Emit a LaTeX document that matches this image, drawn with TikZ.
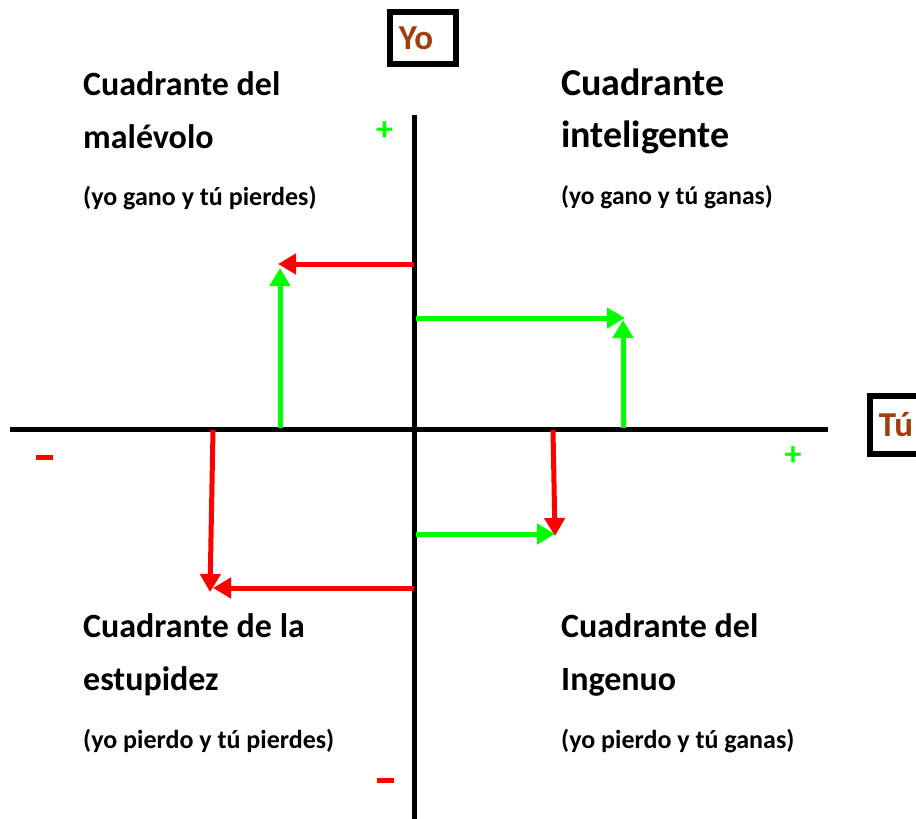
\documentclass[tikz,border=0pt]{standalone}
\usepackage{fontspec}
\setmainfont{Carlito}
\usetikzlibrary{arrows.meta}
\definecolor{yobrown}{RGB}{160,62,12}
\definecolor{lime}{RGB}{0,255,0}

\begin{document}
\begin{tikzpicture}[x=1pt, y=-1pt,
	axisline/.style={line width=5pt, color=black},
	gainarrow/.style={line width=5pt, color=lime, -{Triangle[length=18pt,width=20pt]}},
	lossarrow/.style={line width=5pt, color=red, -{Triangle[length=18pt,width=20pt]}},
	heading/.style={anchor=base west, inner sep=0pt, font=\fontsize{34}{40}\selectfont\bfseries},
	bigheading/.style={heading, font=\fontsize{38}{44}\selectfont\bfseries},
	subtitle/.style={anchor=base west, inner sep=0pt, font=\fontsize{26}{30}\selectfont\bfseries},
	signtext/.style={inner sep=0pt, font=\fontsize{34}{34}\selectfont\bfseries},
	axisbox/.style={draw=black, line width=6pt, inner sep=0pt, minimum width=66pt, minimum height=52pt,
		text=yobrown, font=\fontsize{35}{35}\selectfont\bfseries}]
	%%%%% START %%%%%
	
	\useasboundingbox (0,0) rectangle (916,819);
	
	% ejes
	\coordinate (ytop) at (414,115);
	\coordinate (ybot) at (414,819);
	\coordinate (xleft) at (10,429);
	\coordinate (xright) at (828,429);
	\draw[axisline] (ytop) -- (ybot);
	\draw[axisline] (xleft) -- (xright);
	
	\node[axisbox] (yo) at (423,38) {\hspace*{-14pt}Yo};
	\begin{scope}
		\clip (0,0) rectangle (916,819);
		\node[axisbox, minimum height=58pt, anchor=west] (tu) at (867,425) {\hspace*{-14pt}Tú};
	\end{scope}
	
	\node[signtext, color=lime] (ymas) at (384.5,131) {+};
	\node[signtext, color=lime] (xmas) at (793,456) {+};
	\node[signtext, color=red] (xmenos) at (44,458) {\rule[0.1ex]{17pt}{5pt}};
	\node[signtext, color=red] (ymenos) at (385,781) {\rule[0.1ex]{17pt}{5pt}};
	
	% cuadrante del malévolo
	\coordinate (m1) at (414,264);
	\coordinate (m2) at (278,264);
	\coordinate (m3) at (280,428);
	\coordinate (m4) at (280,268);
	\draw[lossarrow] (m1) -- (m2);
	\draw[gainarrow] (m3) -- (m4);
	
	% cuadrante inteligente
	\coordinate (i1) at (416,318);
	\coordinate (i2) at (625,318);
	\coordinate (i3) at (623,428);
	\coordinate (i4) at (623,320);
	\draw[gainarrow] (i1) -- (i2);
	\draw[gainarrow] (i3) -- (i4);
	
	% cuadrante del ingenuo
	\coordinate (g1) at (553,430);
	\coordinate (g2) at (555,536);
	\coordinate (g3) at (416,534);
	\coordinate (g4) at (555,534);
	\draw[lossarrow] (g1) -- (g2);
	\draw[gainarrow] (g3) -- (g4);
	
	% cuadrante de la estupidez
	\coordinate (e1) at (213,430);
	\coordinate (e2) at (210,592);
	\coordinate (e3) at (414,588);
	\coordinate (e4) at (213,588);
	\draw[lossarrow] (e1) -- (e2);
	\draw[lossarrow] (e3) -- (e4);
	
	% textos
	\node[heading] (mal1) at (83,95) {Cuadrante del};
	\node[heading] (mal2) at (83,148) {malévolo};
	\node[subtitle] (mal3) at (83,205) {(yo gano y tú pierdes)};
	
	\node[bigheading] (int1) at (561,95) {Cuadrante};
	\node[bigheading] (int2) at (561,147) {inteligente};
	\node[subtitle, font=\fontsize{25.5}{30}\selectfont\bfseries] (int3) at (561,204) {(yo gano y tú ganas)};
	
	\node[heading] (est1) at (83,637) {Cuadrante de la};
	\node[heading] (est2) at (83,690) {estupidez};
	\node[subtitle] (est3) at (83,748) {(yo pierdo y tú pierdes)};
	
	\node[heading] (ing1) at (561,637) {Cuadrante del};
	\node[heading] (ing2) at (561,690) {Ingenuo};
	\node[subtitle] (ing3) at (561,748) {(yo pierdo y tú ganas)};
	
	%%%%% END %%%%%
\end{tikzpicture}
\end{document}
